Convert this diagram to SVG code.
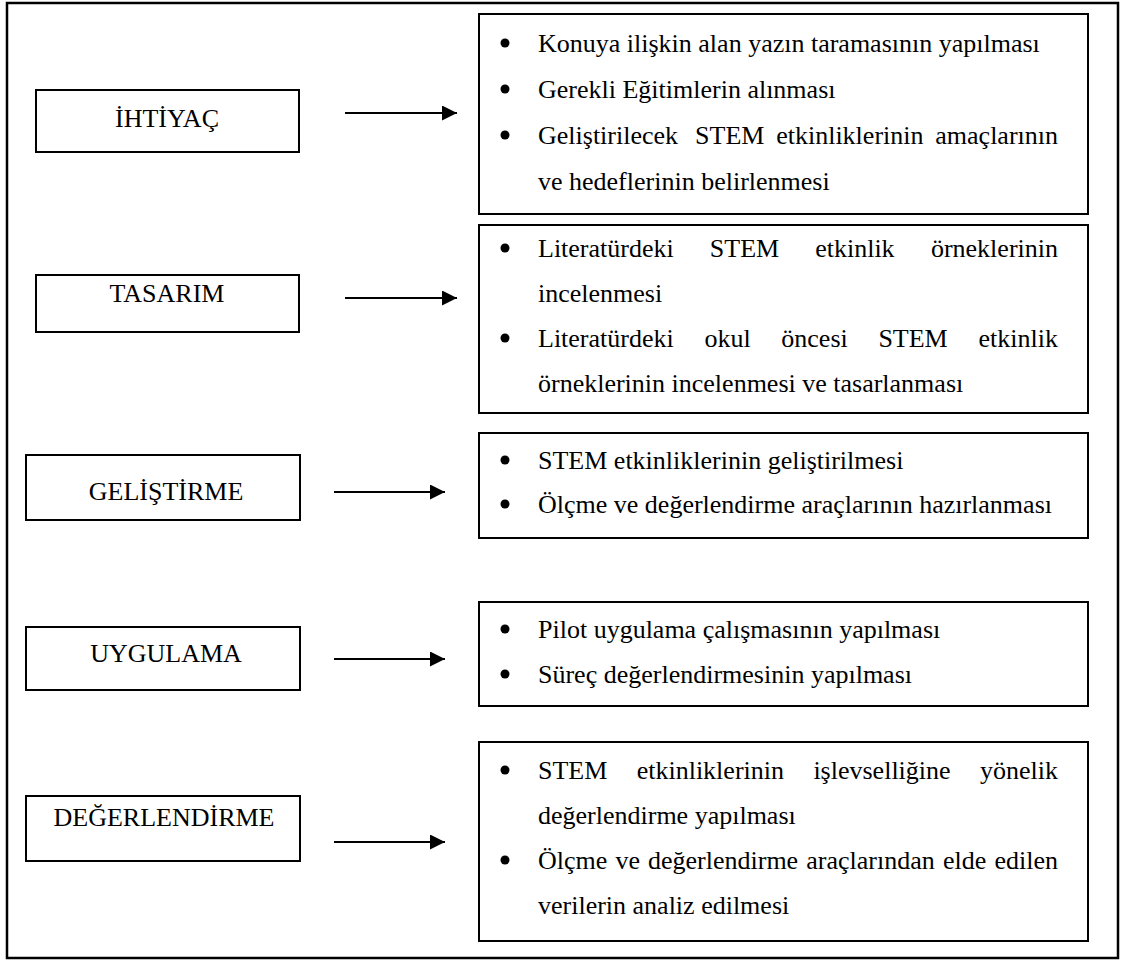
<svg xmlns="http://www.w3.org/2000/svg" width="1121" height="962" viewBox="0 0 1121 962">
<defs>
<style>
.frame{fill:#fff;stroke:#000;stroke-width:2.5}
.box{fill:#fff;stroke:#000;stroke-width:2}
.lbl{font-family:"Liberation Serif","Times New Roman",serif;font-size:26px;fill:#000;text-anchor:middle}
.t{font-family:"Liberation Serif","Times New Roman",serif;font-size:26px;fill:#000}
.e{text-anchor:end}
.conn line{stroke:#000;stroke-width:2.2}
</style>
<marker id="ah" viewBox="0 0 15 15" refX="15" refY="7.5" markerWidth="15" markerHeight="15" markerUnits="userSpaceOnUse" orient="auto">
<path d="M0,0 L15,7.5 L0,15 Z" fill="#000"/>
</marker>
</defs>
<rect x="0" y="0" width="1121" height="962" fill="#fff"/>
<rect class="frame" x="7" y="3" width="1111" height="955"/>

<g id="n-ihtiyac"><rect class="box" x="36" y="90" width="263" height="62"/><text class="lbl" x="167" y="127">İHTİYAÇ</text></g>
<g id="n-tasarim"><rect class="box" x="36" y="275" width="263" height="57"/><text class="lbl" x="167" y="302">TASARIM</text></g>
<g id="n-gelistirme"><rect class="box" x="26" y="455" width="274" height="65"/><text class="lbl" x="166" y="500">GELİŞTİRME</text></g>
<g id="n-uygulama"><rect class="box" x="26" y="627" width="274" height="63"/><text class="lbl" x="166" y="662">UYGULAMA</text></g>
<g id="n-degerlendirme"><rect class="box" x="26" y="796" width="274" height="65"/><text class="lbl" x="164" y="826">DEĞERLENDİRME</text></g>

<g id="r-ihtiyac">
<rect class="box" x="479" y="14" width="609" height="200"/>
<circle cx="505" cy="43" r="4.5"/><circle cx="505" cy="89" r="4.5"/><circle cx="505" cy="135" r="4.5"/>
<text class="t" x="538" y="52">Konuya ilişkin alan yazın taramasının yapılması</text>
<text class="t" x="538" y="98">Gerekli Eğitimlerin alınması</text>
<text class="t" y="144"><tspan x="538">Geliştirilecek</tspan><tspan x="695.1">STEM</tspan><tspan x="776.2">etkinliklerinin</tspan><tspan class="e" x="1058">amaçlarının</tspan></text>
<text class="t" x="538" y="190">ve hedeflerinin belirlenmesi</text>
</g>

<g id="r-tasarim">
<rect class="box" x="479" y="225" width="609" height="188"/>
<circle cx="505" cy="248" r="4.5"/><circle cx="505" cy="338" r="4.5"/>
<text class="t" y="257"><tspan x="538">Literatürdeki</tspan><tspan x="709.8">STEM</tspan><tspan x="815.2">etkinlik</tspan><tspan class="e" x="1058">örneklerinin</tspan></text>
<text class="t" x="538" y="302">incelenmesi</text>
<text class="t" y="347"><tspan x="538">Literatürdeki</tspan><tspan x="704.4">okul</tspan><tspan x="781.3">öncesi</tspan><tspan x="878.4">STEM</tspan><tspan class="e" x="1058">etkinlik</tspan></text>
<text class="t" x="538" y="392">örneklerinin incelenmesi ve tasarlanması</text>
</g>

<g id="r-gelistirme">
<rect class="box" x="479" y="433" width="609" height="105"/>
<circle cx="505" cy="460" r="4.5"/><circle cx="505" cy="504" r="4.5"/>
<text class="t" x="538" y="469">STEM etkinliklerinin geliştirilmesi</text>
<text class="t" x="538" y="513">Ölçme ve değerlendirme araçlarının hazırlanması</text>
</g>

<g id="r-uygulama">
<rect class="box" x="479" y="602" width="609" height="104"/>
<circle cx="505" cy="629" r="4.5"/><circle cx="505" cy="674" r="4.5"/>
<text class="t" x="538" y="638">Pilot uygulama çalışmasının yapılması</text>
<text class="t" x="538" y="683">Süreç değerlendirmesinin yapılması</text>
</g>

<g id="r-degerlendirme">
<rect class="box" x="479" y="742" width="609" height="199"/>
<circle cx="505" cy="770" r="4.5"/><circle cx="505" cy="860" r="4.5"/>
<text class="t" y="779"><tspan x="538">STEM</tspan><tspan x="636.7">etkinliklerinin</tspan><tspan x="813.4">işlevselliğine</tspan><tspan class="e" x="1058">yönelik</tspan></text>
<text class="t" x="538" y="824">değerlendirme yapılması</text>
<text class="t" y="869"><tspan x="538">Ölçme</tspan><tspan x="615.4">ve</tspan><tspan x="648">değerlendirme</tspan><tspan x="806.3">araçlarından</tspan><tspan x="942.9">elde</tspan><tspan class="e" x="1058">edilen</tspan></text>
<text class="t" x="538" y="914">verilerin analiz edilmesi</text>
</g>

<g id="connectors" class="conn">
<line x1="345" y1="113" x2="457" y2="113" marker-end="url(#ah)"/>
<line x1="345" y1="298" x2="457" y2="298" marker-end="url(#ah)"/>
<line x1="334" y1="492" x2="445" y2="492" marker-end="url(#ah)"/>
<line x1="334" y1="659" x2="445" y2="659" marker-end="url(#ah)"/>
<line x1="334" y1="842" x2="445" y2="842" marker-end="url(#ah)"/>
</g>
</svg>
